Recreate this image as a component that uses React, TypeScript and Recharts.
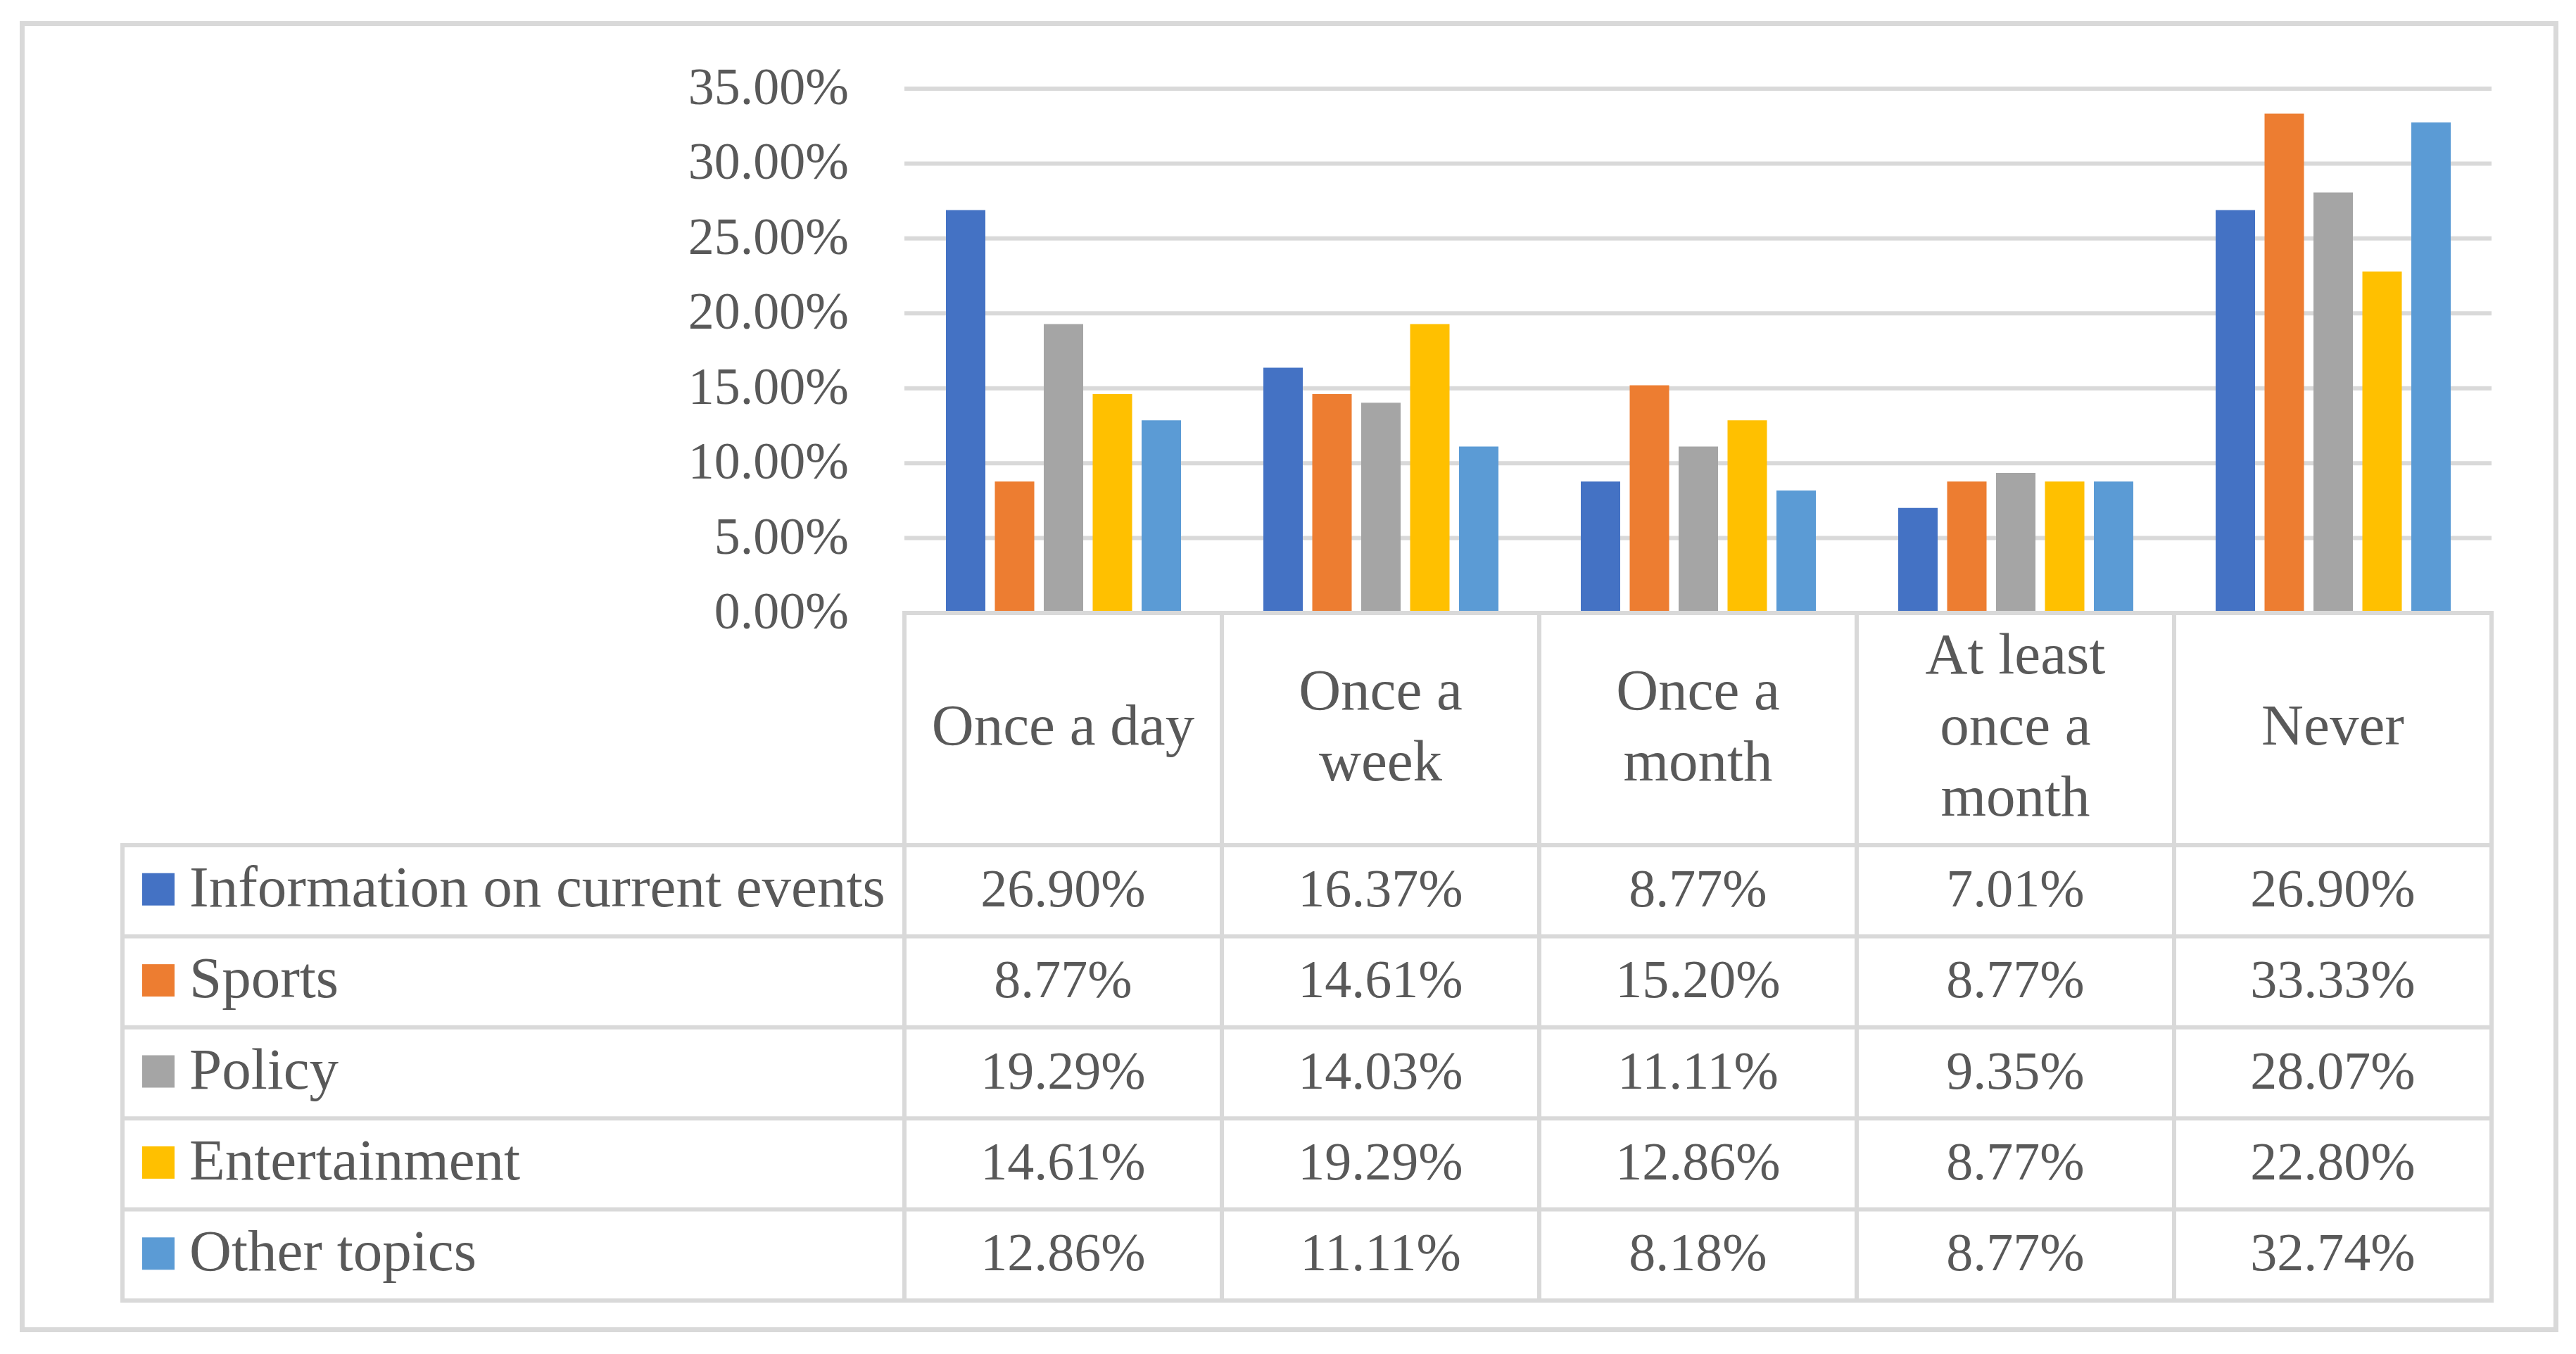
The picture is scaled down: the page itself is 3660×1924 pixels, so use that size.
import React from 'react';
import { BarChart, Bar, XAxis, YAxis, CartesianGrid } from 'recharts';

const categories = ['Once a day', 'Once a week', 'Once a month', 'At least once a month', 'Never'];
const categoryLines = [['Once a day'], ['Once a', 'week'], ['Once a', 'month'], ['At least', 'once a', 'month'], ['Never']];
const seriesNames = ['Information on current events', 'Sports', 'Policy', 'Entertainment', 'Other topics'];
const seriesKeys = ['info', 'sports', 'policy', 'entertainment', 'other'];
const seriesColors = ['#4472C4', '#ED7D31', '#A5A5A5', '#FFC000', '#5B9BD5'];
const infoValues = [26.9, 16.37, 8.77, 7.01, 26.9];
const sportsValues = [8.77, 14.61, 15.2, 8.77, 33.33];
const policyValues = [19.29, 14.03, 11.11, 9.35, 28.07];
const entertainmentValues = [14.61, 19.29, 12.86, 8.77, 22.8];
const otherValues = [12.86, 11.11, 8.18, 8.77, 32.74];
const yTicks = [0, 5, 10, 15, 20, 25, 30, 35];

const seriesValues = [infoValues, sportsValues, policyValues, entertainmentValues, otherValues];
const data = categories.map((c, i) => {
  const row: any = { category: c };
  seriesKeys.forEach((k, s) => { row[k] = seriesValues[s][i]; });
  return row;
});

const W = 3660;
const H = 1924;
const PLOT_LEFT = 1285;
const PLOT_RIGHT = 3540;
const PLOT_TOP = 126;
const PLOT_BOTTOM = 871;
const HEADER_H = 330;
const TABLE_H = 647;
const TABLE_LEFT = 174;
const LINE = '#d9d9d9';
const LW = 6;
const TEXT = '#595959';
const FONT = '"Liberation Serif", "Times New Roman", serif';
const WORD_SIZE = 83;
const NUM_SIZE = 76;
const YNUM_SIZE = 74;

const fmt = (v: number) => `${v.toFixed(2)}%`;

const YTick = (props: any) => {
  const { x, y, payload } = props;
  return (
    <text x={x} y={y + 22} textAnchor="end" fontFamily={FONT} fontSize={YNUM_SIZE} fill={TEXT}>
      {fmt(payload.value)}
    </text>
  );
};

const TableTick = (props: any) => {
  const { x, y, payload, index } = props;
  const idx = typeof index === 'number' ? index : categories.indexOf(payload.value);
  const colW = (PLOT_RIGHT - PLOT_LEFT) / categories.length;
  const left = x - colW / 2;
  const right = x + colW / 2;
  const top = y;
  const headerBottom = top + HEADER_H;
  const tableBottom = headerBottom + TABLE_H;
  const rowH = TABLE_H / seriesNames.length;
  const lines = categoryLines[idx] || [String(payload.value)];
  const headerCenter = top + HEADER_H / 2;
  const lineGap = 101;
  const els: any[] = [];

  els.push(<line key="vl" x1={left} x2={left} y1={top} y2={tableBottom} stroke={LINE} strokeWidth={LW} strokeLinecap="square" />);
  if (idx === categories.length - 1) {
    els.push(<line key="vr" x1={right} x2={right} y1={top} y2={tableBottom} stroke={LINE} strokeWidth={LW} strokeLinecap="square" />);
  }
  for (let r = 0; r <= seriesNames.length; r++) {
    const yy = headerBottom + r * rowH;
    els.push(<line key={`h${r}`} x1={left} x2={right} y1={yy} y2={yy} stroke={LINE} strokeWidth={LW} strokeLinecap="square" />);
  }
  lines.forEach((ln, i) => {
    const by = headerCenter + 22 + (i - (lines.length - 1) / 2) * lineGap;
    els.push(
      <text key={`t${i}`} x={x} y={by} textAnchor="middle" fontFamily={FONT} fontSize={WORD_SIZE} fill={TEXT}>{ln}</text>
    );
  });
  seriesValues.forEach((vals, s) => {
    const cy = headerBottom + (s + 0.5) * rowH;
    els.push(
      <text key={`v${s}`} x={x} y={cy + 22} textAnchor="middle" fontFamily={FONT} fontSize={NUM_SIZE} fill={TEXT}>{fmt(vals[idx])}</text>
    );
  });

  if (idx === 0) {
    els.push(<line key="ll" x1={TABLE_LEFT} x2={TABLE_LEFT} y1={headerBottom} y2={tableBottom} stroke={LINE} strokeWidth={LW} strokeLinecap="square" />);
    for (let r = 0; r <= seriesNames.length; r++) {
      const yy = headerBottom + r * rowH;
      els.push(<line key={`lh${r}`} x1={TABLE_LEFT} x2={left} y1={yy} y2={yy} stroke={LINE} strokeWidth={LW} strokeLinecap="square" />);
    }
    seriesNames.forEach((name, s) => {
      const cy = headerBottom + (s + 0.5) * rowH;
      els.push(<rect key={`sq${s}`} x={TABLE_LEFT + 28} y={cy - 25} width={46} height={46} fill={seriesColors[s]} />);
      els.push(
        <text key={`ln${s}`} x={TABLE_LEFT + 95} y={cy + 22} textAnchor="start" fontFamily={FONT} fontSize={WORD_SIZE} fill={TEXT}>{name}</text>
      );
    });
  }
  return <g>{els}</g>;
};

export default function App() {
  return (
    <div style={{ position: 'absolute', left: 0, top: 0, width: W, height: H, background: '#fff' }}>
      <div style={{ position: 'absolute', left: 28, top: 30, width: 3607, height: 1863, border: `7px solid ${LINE}`, boxSizing: 'border-box' }} />
      <div style={{ position: 'absolute', left: 0, top: 0 }}>
        <BarChart
          width={W}
          height={H}
          data={data}
          margin={{ top: PLOT_TOP, right: W - PLOT_RIGHT, bottom: 0, left: 0 }}
          barSize={56}
          barGap={13.5}
        >
          <CartesianGrid vertical={false} stroke={LINE} strokeWidth={LW} />
          <YAxis
            type="number"
            domain={[0, 35]}
            ticks={yTicks}
            width={PLOT_LEFT}
            axisLine={false}
            tickLine={false}
            tickSize={0}
            tickMargin={79}
            tick={<YTick />}
            interval={0}
          />
          <XAxis
            dataKey="category"
            height={H - PLOT_BOTTOM}
            axisLine={{ stroke: LINE, strokeWidth: LW }}
            tickLine={false}
            tickSize={0}
            tickMargin={0}
            interval={0}
            tick={<TableTick />}
          />
          {seriesKeys.map((k, s) => (
            <Bar key={k} dataKey={k} name={seriesNames[s]} fill={seriesColors[s]} isAnimationActive={false} />
          ))}
        </BarChart>
      </div>
    </div>
  );
}
